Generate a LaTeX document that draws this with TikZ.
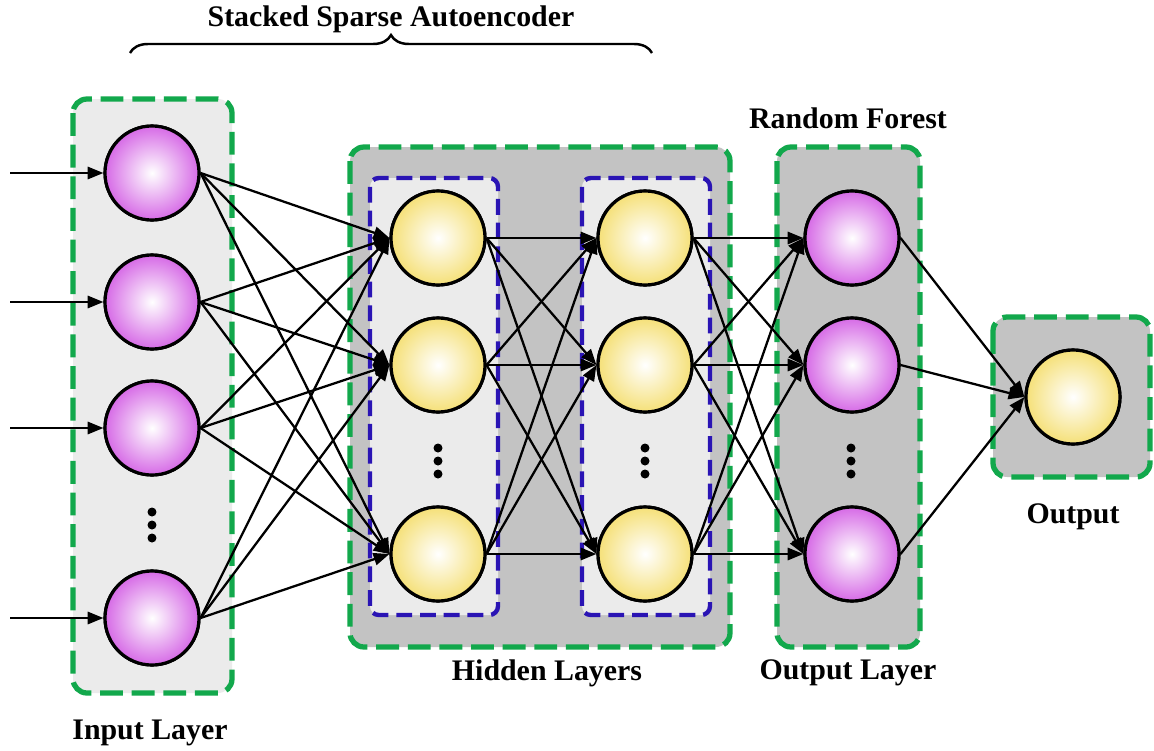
\documentclass[tikz,border=0pt]{standalone}
\usepackage{fontspec}
\setmainfont{Liberation Serif}
\usetikzlibrary{arrows.meta,decorations.pathreplacing}
\definecolor{grn}{HTML}{12A84C}
\definecolor{blu}{HTML}{2A14B4}
\definecolor{lightgr}{HTML}{EBEBEB}
\definecolor{darkgr}{HTML}{C3C3C3}
\definecolor{purp}{HTML}{D66AE6}
\definecolor{yel}{HTML}{F5E078}
\begin{document}
\begin{tikzpicture}[x=0.02cm,y=-0.02cm,
 greenbox/.style={draw=grn,line width=3pt,dash pattern=on 13pt off 5pt,rounded corners=8pt},
 bluebox/.style={draw=blu,line width=2.5pt,dash pattern=on 9pt off 4.5pt,rounded corners=5pt,fill=lightgr},
 neuron/.style={circle,draw=black,line width=1.8pt,minimum size=1.88cm,inner sep=0pt},
 pnode/.style={neuron,inner color=white,outer color=purp},
 ynode/.style={neuron,inner color=white,outer color=yel},
 conn/.style={line width=1.3pt,-{Triangle[length=9pt,width=7pt]}},
 lbl/.style={font=\bfseries\fontsize{17}{20}\selectfont},
 dotn/.style={circle,fill=black,inner sep=0pt,minimum size=0.18cm}]
\useasboundingbox (0,0) rectangle (1154,751);
% boxes
\draw[greenbox,fill=lightgr] (73,99) rectangle (232,693);
\draw[greenbox,fill=darkgr] (350,147) rectangle (730,647);
\draw[bluebox] (370,178) rectangle (498,615);
\draw[bluebox] (582,178) rectangle (710,615);
\draw[greenbox,fill=darkgr] (777,147) rectangle (920,647);
\draw[greenbox,fill=darkgr] (993,317) rectangle (1150,477);
% nodes
\node[pnode] (i1) at (152,173) {};
\node[pnode] (i2) at (152,302) {};
\node[pnode] (i3) at (152,428) {};
\node[pnode] (i4) at (152,618) {};
\node[ynode] (a1) at (438,238) {};
\node[ynode] (a2) at (438,365) {};
\node[ynode] (a3) at (438,554) {};
\node[ynode] (b1) at (645,238) {};
\node[ynode] (b2) at (645,365) {};
\node[ynode] (b3) at (645,554) {};
\node[pnode] (o1) at (852,238) {};
\node[pnode] (o2) at (852,365) {};
\node[pnode] (o3) at (852,554) {};
\node[ynode] (out) at (1073,397) {};
% dots
\foreach \x/\y [count=\k] in {152/512,438/448,645/448,851/448}{
  \node[dotn] (d\k a) at (\x,\y) {};
  \node[dotn] (d\k b) at (\x,\y+13) {};
  \node[dotn] (d\k c) at (\x,\y+26) {};
}
% input arrows
\foreach \k/\y in {1/173,2/302,3/428,4/618}{
  \coordinate (s\k) at (10,\y);
  \draw[conn] (s\k) -- (i\k.west);
}
% connections
\foreach \p in {1,2,3,4}{\foreach \q in {1,2,3}{\draw[conn] (i\p.east) -- (a\q.west);}}
\foreach \p in {1,2,3}{\foreach \q in {1,2,3}{\draw[conn] (a\p.east) -- (b\q.west);}}
\foreach \p in {1,2,3}{\foreach \q in {1,2,3}{\draw[conn] (b\p.east) -- (o\q.west);}}
\foreach \p in {1,2,3}{\draw[conn] (o\p.east) -- (out.west);}
% redraw nodes on top
\foreach \n in {i1,i2,i3,i4,o1,o2,o3}{\node[pnode] at (\n) {};}
\foreach \n in {a1,a2,a3,b1,b2,b3,out}{\node[ynode] at (\n) {};}
% labels
\node[lbl] (tSSA) at (391,19) {Stacked Sparse Autoencoder};
\coordinate (brL) at (130,53);
\coordinate (brR) at (652,53);
\draw[line width=1.4pt,decorate,decoration={brace,amplitude=0.36cm}] (brL) -- (brR);
\node[lbl] (tRF) at (848,118) {Random Forest};
\node[lbl] (tHL) at (547,673) {Hidden Layers};
\node[lbl] (tOL) at (848,673) {Output Layer};
\node[lbl] (tIL) at (150,733) {Input Layer};
\node[lbl] (tO) at (1073,517) {Output};
\end{tikzpicture}
\end{document}
